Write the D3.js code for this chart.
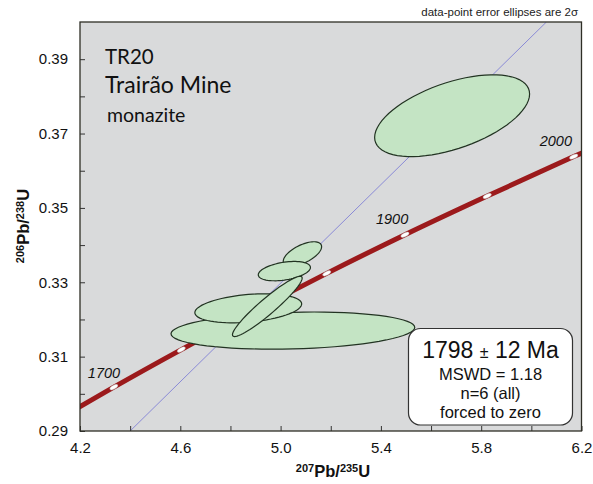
<!DOCTYPE html>
<html>
<head>
<meta charset="utf-8">
<script src="https://cdn.jsdelivr.net/npm/d3@7"></script>
<style>
  html, body { margin: 0; padding: 0; background: #ffffff; }
  svg { display: block; }
</style>
</head>
<body>
<svg id="chart" width="593" height="484"></svg>
<script>
// ---------- data ----------
const xTicks = [4.2, 4.4, 4.6, 4.8, 5.0, 5.2, 5.4, 5.6, 5.8, 6.0, 6.2];
const xTickLabels = ["4.2", "", "4.6", "", "5.0", "", "5.4", "", "5.8", "", "6.2"];
const yTicks = [0.29, 0.30, 0.31, 0.32, 0.33, 0.34, 0.35, 0.36, 0.37, 0.38, 0.39];
const yTickLabels = ["0.29", "", "0.31", "", "0.33", "", "0.35", "", "0.37", "", "0.39"];

// concordia curve points (age in Ma, 207Pb/235U, 206Pb/238U)
const concordiaAges = [1650, 1700, 1750, 1800, 1850, 1900, 1950, 2000, 2050];
const concordiaX = [4.078, 4.335, 4.604, 4.887, 5.184, 5.496, 5.824, 6.169, 6.530];
const concordiaY = [0.2917, 0.3018, 0.3119, 0.3221, 0.3324, 0.3428, 0.3532, 0.3638, 0.3744];
const markerAges = [1700, 1750, 1800, 1850, 1900, 1950, 2000];
const labelledAges = ["1700", "1900", "2000"];

// discordia (forced through zero)
const discordiaX = [4.40, 6.06];
const discordiaY = [0.290, 0.400];

// data-point 2-sigma error ellipses
const ellCx  = [5.049, 4.871, 5.087, 5.015, 4.947, 5.684];
const ellCy  = [0.3170, 0.3230, 0.3376, 0.3330, 0.3235, 0.3748];
const ellSx  = [0.486, 0.213, 0.0765, 0.104, 0.139, 0.309];
const ellSy  = [0.0050, 0.0039, 0.0033, 0.0026, 0.0081, 0.0110];
const ellRho = [0.17, 0.30, 0.60, 0.38, 0.94, 0.53];

const titleLines = ["TR20", "Trairão Mine", "monazite"];
const resultLines = ["MSWD = 1.18", "n=6 (all)", "forced to zero"];

// ---------- layout ----------
const svg = d3.select("#chart");
const L = 80, R = 581.5, T = 22, B = 431;
const x = d3.scaleLinear().domain([4.2, 6.2]).range([L, R]);
const y = d3.scaleLinear().domain([0.29, 0.40]).range([B, T]);

svg.append("defs").append("clipPath").attr("id", "plotclip")
  .append("rect").attr("x", L).attr("y", T).attr("width", R - L).attr("height", B - T);

svg.append("rect").attr("x", L).attr("y", T).attr("width", R - L).attr("height", B - T)
  .attr("fill", "#d9dadb");

const plot = svg.append("g").attr("clip-path", "url(#plotclip)");

// discordia line
plot.append("line")
  .attr("x1", x(discordiaX[0])).attr("y1", y(discordiaY[0]))
  .attr("x2", x(discordiaX[1])).attr("y2", y(discordiaY[1]))
  .attr("stroke", "#8a8ad6").attr("stroke-width", 1);

// concordia
const cpts = concordiaAges.map((a, i) => [concordiaX[i], concordiaY[i]]);
plot.append("path")
  .attr("d", d3.line().x(d => x(d[0])).y(d => y(d[1])).curve(d3.curveCatmullRom)(cpts))
  .attr("fill", "none").attr("stroke", "#9c1a1c").attr("stroke-width", 5);

// markers
markerAges.forEach(a => {
  const i = concordiaAges.indexOf(a);
  const px = x(concordiaX[i]), py = y(concordiaY[i]);
  const p0 = [x(concordiaX[i - 1]), y(concordiaY[i - 1])];
  const p1 = [x(concordiaX[i + 1]), y(concordiaY[i + 1])];
  const ang = Math.atan2(p1[1] - p0[1], p1[0] - p0[0]) * 180 / Math.PI;
  plot.append("ellipse")
    .attr("cx", px).attr("cy", py).attr("rx", 4.5).attr("ry", 1.9)
    .attr("transform", `rotate(${ang},${px},${py})`)
    .attr("fill", "#ffffff").attr("stroke", "#b0b0b0").attr("stroke-width", 0.4);
});

// error ellipses
const tt = d3.range(0, 73).map(k => k / 72 * 2 * Math.PI);
ellCx.forEach((cx, i) => {
  const r = ellRho[i];
  const pts = tt.map(t => [
    cx + ellSx[i] * Math.cos(t),
    ellCy[i] + ellSy[i] * (r * Math.cos(t) + Math.sqrt(1 - r * r) * Math.sin(t))
  ]);
  plot.append("path")
    .attr("d", d3.line().x(d => x(d[0])).y(d => y(d[1])).curve(d3.curveLinearClosed)(pts))
    .attr("fill", "#c4e4c4").attr("stroke", "#223322").attr("stroke-width", 1.2);
});

// age labels
const labelPos = { "1700": [-26, -9], "1900": [-29, -11], "2000": [-34, -11] };
labelledAges.forEach(s => {
  const i = concordiaAges.indexOf(+s);
  svg.append("text")
    .attr("x", x(concordiaX[i]) + labelPos[s][0]).attr("y", y(concordiaY[i]) + labelPos[s][1])
    .attr("font-family", "Liberation Sans, Arial, sans-serif").attr("font-style", "italic")
    .attr("font-size", 14.5).attr("fill", "#111").text(s);
});

// axes
const xAxis = d3.axisBottom(x).tickValues(xTicks)
  .tickFormat((d, i) => xTickLabels[i]).tickSizeInner(-5).tickSizeOuter(0).tickPadding(11);
const gx = svg.append("g").attr("transform", `translate(0,${B})`).call(xAxis);
const yAxis = d3.axisLeft(y).tickValues(yTicks)
  .tickFormat((d, i) => yTickLabels[i]).tickSizeInner(-5).tickSizeOuter(0).tickPadding(12);
const gy = svg.append("g").attr("transform", `translate(${L},0)`).call(yAxis);
[gx, gy].forEach(g => {
  g.select(".domain").remove();
  g.selectAll(".tick line").attr("stroke", "#333").attr("stroke-width", 1);
  g.selectAll("text").attr("font-family", "Liberation Sans, Arial, sans-serif")
    .attr("font-size", 15).attr("fill", "#111");
});

// plot border
svg.append("rect").attr("x", L).attr("y", T).attr("width", R - L).attr("height", B - T)
  .attr("fill", "none").attr("stroke", "#2e2e26").attr("stroke-width", 1.3);

// axis titles
const xt = svg.append("text").attr("x", 333).attr("y", 477).attr("text-anchor", "middle")
  .attr("font-family", "Liberation Sans, Arial, sans-serif").attr("font-weight", "bold")
  .attr("font-size", 16.5).attr("fill", "#111");
xt.append("tspan").attr("font-size", 11).attr("dy", -5).text("207");
xt.append("tspan").attr("dy", 5).text("Pb/");
xt.append("tspan").attr("font-size", 11).attr("dy", -5).text("235");
xt.append("tspan").attr("dy", 5).text("U");

const yt = svg.append("text").attr("transform", "translate(29,226) rotate(-90)")
  .attr("text-anchor", "middle")
  .attr("font-family", "Liberation Sans, Arial, sans-serif").attr("font-weight", "bold")
  .attr("font-size", 16.5).attr("fill", "#111");
yt.append("tspan").attr("font-size", 11).attr("dy", -5).text("206");
yt.append("tspan").attr("dy", 5).text("Pb/");
yt.append("tspan").attr("font-size", 11).attr("dy", -5).text("238");
yt.append("tspan").attr("dy", 5).text("U");

// note at top
svg.append("text").attr("x", 578).attr("y", 16).attr("text-anchor", "end")
  .attr("font-family", "Liberation Sans, Arial, sans-serif").attr("font-size", 11.5)
  .attr("fill", "#222").text("data-point error ellipses are 2σ");

// sample title
const titleSizes = [20.5, 23, 19.5];
const titleY = [64, 93, 122];
const titleX = [105, 105, 107];
titleLines.forEach((s, i) => {
  svg.append("text").attr("x", titleX[i]).attr("y", titleY[i])
    .attr("font-family", "Lato, sans-serif").attr("font-size", titleSizes[i])
    .attr("fill", "#111").text(s);
});

// result box
svg.append("rect").attr("x", 408.5).attr("y", 328.5).attr("width", 164).attr("height", 96.5)
  .attr("rx", 12).attr("fill", "#ffffff").attr("stroke", "#333").attr("stroke-width", 1.2);
const age = svg.append("text").attr("x", 490.5).attr("y", 358).attr("text-anchor", "middle")
  .attr("font-family", "Liberation Sans, Arial, sans-serif").attr("font-size", 23).attr("fill", "#111");
age.append("tspan").text("1798 ");
age.append("tspan").attr("font-size", 16).text("±");
age.append("tspan").text(" 12 Ma");
const resY = [379.5, 399, 417.5];
resultLines.forEach((s, i) => {
  svg.append("text").attr("x", 490.5).attr("y", resY[i]).attr("text-anchor", "middle")
    .attr("font-family", "Liberation Sans, Arial, sans-serif").attr("font-size", 16.5)
    .attr("fill", "#111").text(s);
});
</script>
</body>
</html>
